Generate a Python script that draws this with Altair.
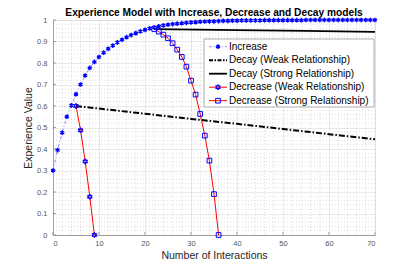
import altair as alt
import pandas as pd

# ---- data ----
inc_x = list(range(0, 71))
inc_y = [0.300, 0.395, 0.476, 0.550, 0.603, 0.655, 0.700, 0.742, 0.777, 0.805,
         0.828, 0.848, 0.866, 0.881, 0.896, 0.908, 0.920, 0.930, 0.939, 0.947,
         0.954, 0.961, 0.966, 0.971, 0.975, 0.978, 0.981, 0.983, 0.985, 0.987,
         0.989, 0.990, 0.992, 0.993, 0.994, 0.994, 0.995, 0.996, 0.996, 0.997,
         0.997, 0.998, 0.998, 0.998, 0.998, 0.998, 0.999, 0.999, 0.999, 0.999,
         0.999, 0.999, 0.999, 0.999, 0.999, 1.000, 1.000, 1.000, 1.000, 1.000,
         1.000, 1.000, 1.000, 1.000, 1.000, 1.000, 1.000, 1.000, 1.000, 1.000,
         1.000]

decay_weak_x = [5, 10, 20, 30, 40, 50, 60, 70]
decay_weak_y = [0.600, 0.588, 0.564, 0.540, 0.517, 0.493, 0.469, 0.445]

decay_strong_x = [22, 40, 55, 70]
decay_strong_y = [0.958, 0.953, 0.949, 0.945]

dec_weak_x = [5, 6, 7, 8, 9]
dec_weak_y = [0.600, 0.487, 0.342, 0.178, 0.0]

dec_strong_x = [22, 23, 24, 25, 26, 27, 28, 29, 30, 31, 32, 33, 34, 35, 36]
dec_strong_y = [0.958, 0.946, 0.932, 0.915, 0.892, 0.862, 0.828, 0.783, 0.718,
                0.653, 0.563, 0.462, 0.346, 0.190, 0.0]

x_ticks = [0, 10, 20, 30, 40, 50, 60, 70]
y_ticks = [0, 0.1, 0.2, 0.3, 0.4, 0.5, 0.6, 0.7, 0.8, 0.9, 1]
x_minor = [v for v in range(0, 71, 2) if v % 10 != 0]
y_minor = [round(i * 0.02, 2) for i in range(51) if i % 5 != 0]

title_text = "Experience Model with Increase, Decrease and Decay models"
legend_labels = ["Increase", "Decay (Weak Relationship)", "Decay (Strong Relationship)",
                 "Decrease (Weak Relationship)", "Decrease (Strong Relationship)"]

FONT = "Liberation Sans"
W, H = 322, 215

xs = alt.Scale(domain=[0, 70], nice=False, zero=False)
ys = alt.Scale(domain=[0, 1], nice=False, zero=False)

ASTERISK = "M0,-1V1M-0.866,-0.5L0.866,0.5M-0.866,0.5L0.866,-0.5"
HEXAGRAM = "M0,-1L0.866,0.5L-0.866,0.5Z M0,1L0.866,-0.5L-0.866,-0.5Z"


def df(x, y):
    return pd.DataFrame({"x": x, "y": y})


x_axis = alt.Axis(values=x_ticks, grid=True, gridColor="#e0e0e0", gridWidth=0.7,
                  domainColor="#8a8a8a", domainWidth=0.8, ticks=False,
                  labelFont=FONT, labelFontSize=7.5, labelColor="#555555", labelPadding=4,
                  title="Number of Interactions", titleFont=FONT, titleFontSize=10.5,
                  titleFontWeight="normal", titleColor="#262626", titlePadding=4)
y_axis = alt.Axis(values=y_ticks, grid=True, gridColor="#e0e0e0", gridWidth=0.7,
                  domainColor="#8a8a8a", domainWidth=0.8, ticks=False, format="~g",
                  labelFont=FONT, labelFontSize=7.5, labelColor="#555555", labelPadding=6,
                  title="Experience Value", titleFont=FONT, titleFontSize=10.5,
                  titleFontWeight="normal", titleColor="#262626", titlePadding=3)


def X(field):
    return alt.X(field, scale=xs, axis=x_axis)


def Y(field):
    return alt.Y(field, scale=ys, axis=y_axis)


# minor grid
minor_x = alt.Chart(pd.DataFrame({"v": x_minor})).mark_rule(
    color="#c8c8c8", strokeWidth=0.6, strokeDash=[1, 2]).encode(x=X("v:Q"))
minor_y = alt.Chart(pd.DataFrame({"v": y_minor})).mark_rule(
    color="#c8c8c8", strokeWidth=0.6, strokeDash=[1, 2]).encode(y=Y("v:Q"))

# inward ticks
tick_x = alt.Chart(pd.DataFrame({"v": x_ticks})).mark_rule(
    color="#8a8a8a", strokeWidth=0.8).encode(
    x=X("v:Q"), y=alt.value(H), y2=alt.value(H - 3))
tick_y = alt.Chart(pd.DataFrame({"v": y_ticks})).mark_rule(
    color="#8a8a8a", strokeWidth=0.8).encode(
    y=Y("v:Q"), x=alt.value(0), x2=alt.value(3))

enc = dict(x=X("x:Q"), y=Y("y:Q"))

inc_line = alt.Chart(df(inc_x, inc_y)).mark_line(
    color="#6a6aff", strokeWidth=0.8, strokeDash=[3, 2, 1, 2]).encode(**enc)
inc_pts = alt.Chart(df(inc_x, inc_y)).mark_point(
    shape=ASTERISK, color="#0000ff", filled=False, size=22, strokeWidth=1.4,
    opacity=1).encode(**enc)

dw_line = alt.Chart(df(decay_weak_x, decay_weak_y)).mark_line(
    color="black", strokeWidth=2, strokeDash=[6, 2, 1.5, 2]).encode(**enc)
ds_line = alt.Chart(df(decay_strong_x, decay_strong_y)).mark_line(
    color="black", strokeWidth=1.8).encode(**enc)

decw_line = alt.Chart(df(dec_weak_x, dec_weak_y)).mark_line(
    color="#ff0000", strokeWidth=1).encode(**enc)
decw_pts = alt.Chart(df(dec_weak_x, dec_weak_y)).mark_point(
    shape=HEXAGRAM, color="#0000ff", filled=False, size=30, strokeWidth=1,
    opacity=1).encode(**enc)

decs_line = alt.Chart(df(dec_strong_x, dec_strong_y)).mark_line(
    color="#ff0000", strokeWidth=1).encode(**enc)
decs_pts = alt.Chart(df(dec_strong_x, dec_strong_y)).mark_point(
    shape="square", color="#0000ff", filled=False, size=22, strokeWidth=1,
    opacity=1).encode(**enc)

one = pd.DataFrame({"a": [0]})

# title as a text mark so that it stays inside the page
title_mark = alt.Chart(one).mark_text(
    text=title_text, align="center", baseline="alphabetic", font=FONT,
    fontSize=10.2, fontWeight="bold", color="black").encode(
    x=alt.value(W / 2), y=alt.value(-3.7))

# ---- manual legend (pixel positions inside plot area) ----
LX0, LX1, LY0, LY1 = 151, 321, 19, 87
rows = [26.7, 40.2, 53.7, 67.2, 80.7]
sx0, sx1, sm, tx = 156, 174, 165, 176

leg = [alt.Chart(one).mark_rect(fill="white", stroke="#9a9a9a", strokeWidth=0.8).encode(
    x=alt.value(LX0), x2=alt.value(LX1), y=alt.value(LY0), y2=alt.value(LY1))]

line_styles = [
    dict(color="#6a6aff", strokeWidth=0.8, strokeDash=[3, 2, 1, 2]),
    dict(color="black", strokeWidth=2, strokeDash=[4, 1.5, 1.5, 1.5]),
    dict(color="black", strokeWidth=1.8),
    dict(color="#ff0000", strokeWidth=1),
    dict(color="#ff0000", strokeWidth=1),
]
markers = [
    dict(shape=ASTERISK, size=22, strokeWidth=1.4),
    None,
    None,
    dict(shape=HEXAGRAM, size=30, strokeWidth=1),
    dict(shape="square", size=22, strokeWidth=1),
]
for ry, ls, mk, lab in zip(rows, line_styles, markers, legend_labels):
    leg.append(alt.Chart(one).mark_rule(**ls).encode(
        x=alt.value(sx0), x2=alt.value(sx1), y=alt.value(ry)))
    if mk:
        leg.append(alt.Chart(one).mark_point(color="#0000ff", filled=False, opacity=1, **mk).encode(
            x=alt.value(sm), y=alt.value(ry)))
    leg.append(alt.Chart(one).mark_text(
        text=lab, align="left", baseline="middle", font=FONT, fontSize=10,
        color="#000000").encode(x=alt.value(tx), y=alt.value(ry)))

chart = alt.layer(
    minor_x, minor_y, tick_x, tick_y,
    inc_line, dw_line, ds_line, decw_line, decs_line,
    inc_pts, decw_pts, decs_pts,
    *leg, title_mark
).properties(
    width=W, height=H,
    autosize=alt.AutoSizeParams(type="none"),
    padding={"left": 45, "top": 12, "right": 30, "bottom": 26},
).configure_view(stroke=None, clip=False).configure(background="white")

chart.save("out.html", embed_options={"renderer": "svg", "actions": False})
